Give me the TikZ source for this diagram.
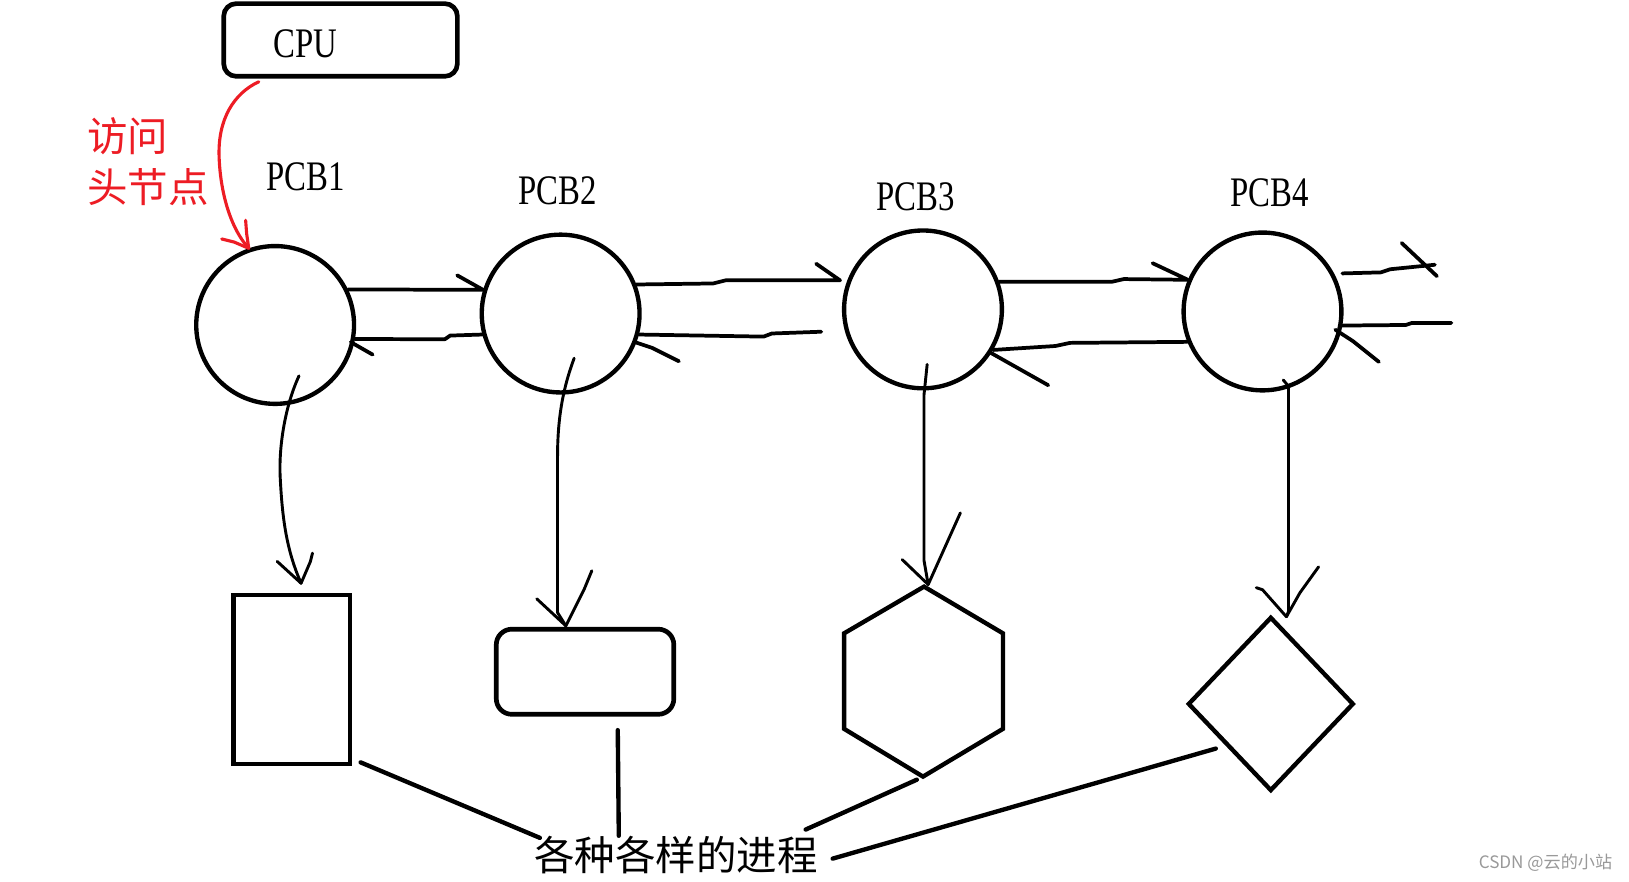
\documentclass[tikz,border=0pt]{standalone}
\usepackage{fontspec}
\setmainfont{Liberation Serif}
\newfontfamily\pcbfont[FakeStretch=0.78]{Liberation Serif}
\newfontfamily\cjk{Noto Sans CJK SC}
\usetikzlibrary{calc}
\definecolor{paintred}{HTML}{ED1C24}
\definecolor{wmgray}{HTML}{999999}
\begin{document}
\begin{tikzpicture}[x=1pt,y=-1pt,
  boxline/.style={draw=black, line width=4.5pt, inner sep=0pt},
  pcb/.style={circle, draw=black, line width=4.2pt, minimum size=152pt, inner sep=0pt},
  lbl/.style={font=\pcbfont\fontsize{40.5}{46}\selectfont, inner sep=0pt},
  cjklbl/.style={font=\cjk\fontsize{39}{44}\selectfont, inner sep=0pt},
  link/.style={draw=black, line width=3.6pt, line cap=round, line join=round},
  downlink/.style={draw=black, line width=2.8pt, line cap=round, line join=round},
  bottomlink/.style={draw=black, line width=4.2pt, line cap=round},
  redlink/.style={draw=paintred, line width=3pt, line cap=round, line join=round},
  shapeline/.style={draw=black, line width=4.2pt, line join=miter}
]
\useasboundingbox (0,0) rectangle (1569,848.6);
\fill[white] (0,0) rectangle (1569,848.6);

% CPU box
\node[boxline, rounded corners=12pt, minimum width=225pt, minimum height=70pt] (cpu) at (328,38.5) {};
\node[lbl] (cpulbl) at (294,42) {CPU};

% PCB circles
\node[pcb] (c1) at (265,313) {};
\node[pcb] (c2) at (540,302) {};
\node[pcb] (c3) at (889,298) {};
\node[pcb] (c4) at (1216,300) {};

\node[lbl] (p1) at (294,170.5) {PCB1};
\node[lbl] (p2) at (537,184) {PCB2};
\node[lbl] (p3) at (882,190) {PCB3};
\node[lbl] (p4) at (1223,186) {PCB4};

% red label and arrow
\node[cjklbl, text=paintred, anchor=west] (fw) at (84,131) {访问};
\node[cjklbl, text=paintred, anchor=west] (tjd) at (84,180.5) {头节点};
\coordinate (rs) at ($(cpu.south west)+(36,3)$);
\draw[redlink] (rs) .. controls (225,90) and (210,115) .. (211,150)
  .. controls (212,185) and (222,220) .. (c1.109) -- ++(-2,-14) -- ++(-1,-13);
\draw[redlink] (c1.109) -- ++(-14,-6) -- ++(-12,-3);

% process shapes
\node[boxline, minimum width=112pt, minimum height=163pt] (r1) at (281,654.5) {};
\node[boxline, rounded corners=15pt, minimum width=171pt, minimum height=82pt] (r2) at (563.5,647) {};

\coordinate (hext) at (890,565);
\coordinate (hexur) at (966,610);
\coordinate (hexlr) at (966,702);
\coordinate (hexb) at (889,748);
\coordinate (hexll) at (813,702);
\coordinate (hexul) at (813,610);
\draw[shapeline] (hext) -- (hexur) -- (hexlr) -- (hexb) -- (hexll) -- (hexul) -- cycle;

\coordinate (diat) at (1224,595);
\coordinate (diar) at (1303,678);
\coordinate (diab) at (1224,761);
\coordinate (dial) at (1145,678);
\draw[shapeline] (diat) -- (diar) -- (diab) -- (dial) -- cycle;

% links between PCBs
\draw[link] (c1.26) -- (c2.163) -- ++(-25,-14);
\draw[link] (c2.195) -- ++(-31,1) -- ++(-5,3.5) -- (c1.-10);
\draw[link] ($(c1.-10)+(-4,3)$) -- ++(21,12);

\draw[link] (c2.21) -- ++(74,-1) -- ++(12,-3) -- ($(c3.159)+(-7,0)$) -- ++(-23,-16);
\coordinate (c2free) at (791,319.5);
\draw[link] (c2.-15) -- ++(120,2) -- ++(8,-3) -- (c2free);
\draw[link] (c2.-21) -- ++(15,5) -- ++(26,13);

\draw[link] (c3.20) -- ++(109,0) -- ++(11,-2.5) -- (c4.157) -- ++(-34,-16);
\draw[link] (c4.202) -- ++(-113,1) -- ++(-14,3) -- (c3.-30);
\draw[link] ($(c3.-30)+(-2,3)$) -- ++(55,31);

\coordinate (c4out) at (1382,255);
\draw[link] ($(c4.28)+(8,0)$) -- ++(37,-1) -- ++(9,-3) -- ++(20,-2) -- (c4out);
\draw[link] ($(c4out)+(-32,-21)$) -- ++(34,32);
\coordinate (c4in) at (1398,311);
\draw[link] (c4in) -- ++(-38,0) -- ++(-6,2) -- (c4.-10);
\draw[link] ($(c4.-13)+(-6,0)$) -- ++(17,11) -- ++(25,20);

% down links
\coordinate (t1) at ($(r1.north)+(9,-9)$);
\draw[downlink] ($(c1)+(23,49)$) .. controls (275,390) and (268,430) .. (270,462)
  .. controls (272,500) and (276,530) .. (t1);
\draw[downlink] (t1) -- ++(-23,-21);
\draw[downlink] (t1) -- ++(9,-21) -- ++(2,-8);

\coordinate (t2) at ($(r2.north)+(-18.5,-1)$);
\draw[downlink] ($(c2)+(13,43)$) .. controls (543,372) and (537,400) .. (537,440) -- (537,590) -- (t2);
\draw[downlink] (t2) -- ++(-28,-26);
\draw[downlink] (t2) -- ++(18,-36) -- ++(7,-17);

\coordinate (t3) at ($(hext)+(4,-2)$);
\draw[downlink] ($(c3)+(4,53)$) -- ++(-3,29) -- ++(0,160) -- (t3);
\draw[downlink] (t3) -- ++(-25,-24);
\draw[downlink] (t3) -- ++(22,-49) -- ++(9,-20);

\coordinate (t4) at ($(diat)+(15,-1)$);
\draw[downlink] ($(c4)+(20,66)$) -- ++(5,6) -- ++(0,217) -- (t4);
\draw[downlink] (t4) -- ++(-23,-26) -- ++(-6,-2);
\draw[downlink] (t4) -- ++(13,-23) -- ++(18,-25);

% bottom text and lines
\node[cjklbl] (proc) at (651,824) {各种各样的进程};
\draw[bottomlink] ($(r1.south east)+(8,-4)$) -- ($(proc.center)+(-131,-17)$);
\draw[bottomlink] ($(r2.south)+(31.5,13)$) -- ($(proc.center)+(-55,-19)$);
\draw[bottomlink] ($(hexb)+(-6,3)$) -- ($(proc.center)+(125,-25)$);
\draw[bottomlink] ($(dial)+(26,43)$) -- ($(proc.center)+(151,3)$);

% watermark
\node[font=\cjk\fontsize{16.5}{19}\selectfont, text=wmgray, anchor=east, inner sep=0pt] (wm) at (1553,831) {CSDN @云的小站};
\end{tikzpicture}
\end{document}
